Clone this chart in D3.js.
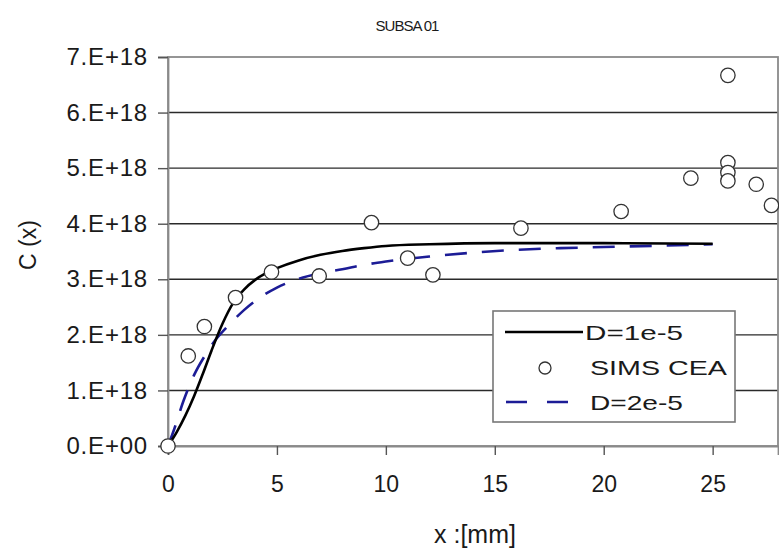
<!DOCTYPE html>
<html>
<head>
<meta charset="utf-8">
<script src="https://cdnjs.cloudflare.com/ajax/libs/d3/7.8.5/d3.min.js"></script>
<style>
  body { margin: 0; background: #fff; }
  text { font-family: "Liberation Sans", Arial, sans-serif; fill: #1a1a1a; }
</style>
</head>
<body>
<div id="chart"></div>
<script>
// chart values (C in atoms, x in mm)
var simsX = [0, 0.93, 1.67, 3.1, 4.75, 6.94, 9.34, 11.0, 12.16, 16.2, 20.8, 24.0, 25.7, 25.7, 25.7, 25.7, 27.0, 27.7];
var simsC = [0, 1.62e18, 2.15e18, 2.67e18, 3.13e18, 3.06e18, 4.02e18, 3.38e18, 3.08e18, 3.92e18, 4.22e18, 4.82e18, 6.67e18, 5.1e18, 4.92e18, 4.77e18, 4.71e18, 4.33e18];

var d1X = [0, 0.4, 0.8, 1.2, 1.6, 2, 2.5, 3, 3.5, 4, 4.5, 5, 6, 7, 8, 9, 10, 12, 15, 20, 25];
var d1C = [0, 0.25e18, 0.55e18, 0.9e18, 1.3e18, 1.72e18, 2.2e18, 2.58e18, 2.82e18, 2.99e18, 3.11e18, 3.2e18, 3.34e18, 3.44e18, 3.51e18, 3.56e18, 3.6e18, 3.63e18, 3.65e18, 3.65e18, 3.64e18];

var d2X = [0, 0.3, 0.7, 1.2, 1.7, 2.2, 2.8, 3.5, 4, 5, 6, 7, 8, 9, 10, 12, 14, 16, 18, 20, 25];
var d2C = [0, 0.32e18, 0.8e18, 1.28e18, 1.63e18, 1.92e18, 2.18e18, 2.45e18, 2.61e18, 2.85e18, 3.01e18, 3.11e18, 3.18e18, 3.26e18, 3.32e18, 3.41e18, 3.48e18, 3.53e18, 3.56e18, 3.58e18, 3.63e18];

var yTicks = [0, 1e18, 2e18, 3e18, 4e18, 5e18, 6e18, 7e18];
var yTickLabels = ["0.E+00", "1.E+18", "2.E+18", "3.E+18", "4.E+18", "5.E+18", "6.E+18", "7.E+18"];
var xTicks = [0, 5, 10, 15, 20, 25];

var legendText = ["D=1e-5", "SIMS CEA", "D=2e-5"];

var svgWidth = 779;
var svgHeight = 551;

var margin = { top: 57, right: 1, bottom: 105, left: 168 };
var width = svgWidth - margin.left - margin.right;
var height = svgHeight - margin.top - margin.bottom;

var svg = d3.select("#chart")
  .append("svg")
  .attr("width", svgWidth)
  .attr("height", svgHeight);

svg.append("rect")
  .attr("width", svgWidth)
  .attr("height", svgHeight)
  .attr("fill", "#fff");

var chartGroup = svg.append("g")
  .attr("transform", `translate(${margin.left}, ${margin.top})`);

// scales
var xScale = d3.scaleLinear().domain([0, 28]).range([0, width]);
var yScale = d3.scaleLinear().domain([0, 7e18]).range([height, 0]);

// gridlines
chartGroup.selectAll(".grid")
  .data(yTicks.slice(1, -1))
  .enter()
  .append("line")
  .attr("x1", 0)
  .attr("x2", width)
  .attr("y1", d => yScale(d))
  .attr("y2", d => yScale(d))
  .attr("stroke", "#2a2a2a")
  .attr("stroke-width", 1.4);

// plot frame
chartGroup.append("rect")
  .attr("width", width)
  .attr("height", height)
  .attr("fill", "none")
  .attr("stroke", "#8a8a8a")
  .attr("stroke-width", 1.8);

// axes
var leftAxis = d3.axisLeft(yScale)
  .tickValues(yTicks)
  .tickSize(10)
  .tickFormat((d, i) => yTickLabels[i]);

var bottomAxis = d3.axisBottom(xScale)
  .tickValues(xTicks)
  .tickSize(9)
  .tickFormat(d3.format("d"));

var yAxis = chartGroup.append("g").call(leftAxis);
var xAxis = chartGroup.append("g")
  .attr("transform", `translate(0, ${height})`)
  .call(bottomAxis);

[xAxis, yAxis].forEach(ax => {
  ax.select(".domain").attr("stroke", "#8a8a8a").attr("stroke-width", 1.8);
  ax.selectAll(".tick line").attr("stroke", "#555").attr("stroke-width", 1.4);
  ax.selectAll(".tick text")
    .style("font-family", "Liberation Sans, Arial, sans-serif")
    .attr("fill", "#1a1a1a");
});

yAxis.selectAll(".tick text")
  .attr("x", -20)
  .style("font-size", "24px")
  .style("letter-spacing", "0.8px");
xAxis.selectAll(".tick text")
  .attr("y", 30)
  .style("font-size", "23px");

// curves
var line = d3.line()
  .x(d => xScale(d[0]))
  .y(d => yScale(d[1]))
  .curve(d3.curveMonotoneX);

var d2Data = d2X.map((x, i) => [x, d2C[i]]);
var d1Data = d1X.map((x, i) => [x, d1C[i]]);

chartGroup.append("path")
  .datum(d2Data)
  .attr("d", line)
  .attr("fill", "none")
  .attr("stroke", "#1c1c96")
  .attr("stroke-width", 2.6)
  .attr("stroke-dasharray", "22,15");

chartGroup.append("path")
  .datum(d1Data)
  .attr("d", line)
  .attr("fill", "none")
  .attr("stroke", "#000")
  .attr("stroke-width", 2.6);

// measured points
chartGroup.selectAll(".sims")
  .data(simsX.map((x, i) => [x, simsC[i]]))
  .enter()
  .append("circle")
  .attr("cx", d => xScale(d[0]))
  .attr("cy", d => yScale(d[1]))
  .attr("r", 7.2)
  .attr("fill", "#fff")
  .attr("stroke", "#333")
  .attr("stroke-width", 1.3);

// title and axis labels
svg.append("text")
  .attr("x", 407)
  .attr("y", 31)
  .attr("text-anchor", "middle")
  .style("font-size", "15px")
  .style("letter-spacing", "-1px")
  .text("SUBSA 01");

svg.append("text")
  .attr("x", 475)
  .attr("y", 543)
  .attr("text-anchor", "middle")
  .style("font-size", "25px")
  .text("x :[mm]");

svg.append("text")
  .attr("transform", "translate(36, 245) rotate(-90)")
  .attr("text-anchor", "middle")
  .style("font-size", "23px")
  .text("C (x)");

// legend
var legend = svg.append("g").attr("transform", "translate(493, 311)");

legend.append("rect")
  .attr("width", 242)
  .attr("height", 111)
  .attr("fill", "#fff")
  .attr("stroke", "#777")
  .attr("stroke-width", 1.6);

legend.append("line")
  .attr("x1", 12).attr("x2", 90)
  .attr("y1", 21).attr("y2", 21)
  .attr("stroke", "#000")
  .attr("stroke-width", 2.6);

legend.append("circle")
  .attr("cx", 52).attr("cy", 57)
  .attr("r", 6)
  .attr("fill", "#fff")
  .attr("stroke", "#333")
  .attr("stroke-width", 1.3);

legend.append("line")
  .attr("x1", 13).attr("x2", 77)
  .attr("y1", 91).attr("y2", 91)
  .attr("stroke", "#1c1c96")
  .attr("stroke-width", 2.6)
  .attr("stroke-dasharray", "21,20");

var legendWidths = [98, 137, 93];
legend.selectAll(".ltext")
  .data(legendText)
  .enter()
  .append("text")
  .attr("x", (d, i) => i == 0 ? 92 : 97)
  .attr("y", (d, i) => 29 + i * 35)
  .attr("textLength", (d, i) => legendWidths[i])
  .attr("lengthAdjust", "spacingAndGlyphs")
  .style("font-size", "21px")
  .text(d => d);
</script>
</body>
</html>
